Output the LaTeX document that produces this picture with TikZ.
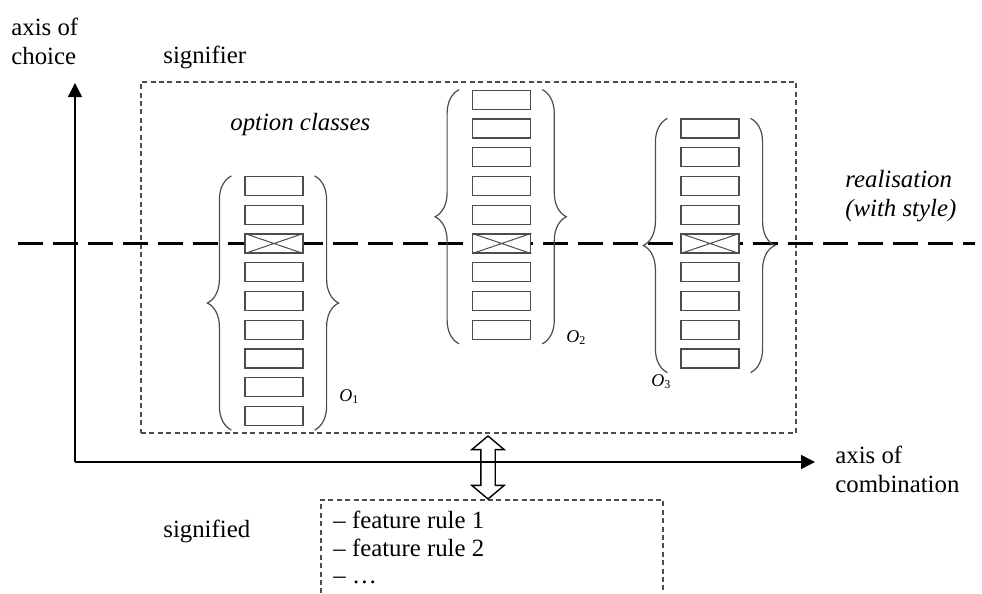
\documentclass[tikz,border=0pt]{standalone}
\usepackage{fontspec}
\setmainfont{Liberation Serif}
\usetikzlibrary{positioning, arrows.meta, shapes.arrows, decorations.pathreplacing}

\tikzset{
  lbl/.style={font=\fontsize{12.4}{14.5}\selectfont, inner sep=0pt, align=left},
  olbl/.style={font=\fontsize{9}{10}\selectfont, inner sep=0pt},
  optbox/.style={draw=black!70, fill=white, line width=0.6pt, minimum width=29pt, minimum height=9.5pt, inner sep=0pt},
  crossline/.style={draw=black!70, line width=0.5pt},
  classbrace/.style={draw=black!70, line width=0.6pt, decorate, decoration={brace, amplitude=12pt}},
  dashframe/.style={draw=black!70, line width=0.9pt, dash pattern=on 2.5pt off 1.7pt},
  axisline/.style={draw=black, line width=0.7pt, -{Triangle[length=7pt, width=7pt]}},
  realline/.style={draw=black, line width=1.5pt, dash pattern=on 12.5pt off 5pt},
  linkarrow/.style={double arrow, draw=black, line width=0.7pt, rotate=90, minimum height=31.5pt, text height=6.5pt, text depth=0pt, text width=0pt, double arrow head extend=4.5pt, double arrow tip angle=100, inner sep=0pt}
}

\begin{document}
\begin{tikzpicture}[x=0.5pt, y=-0.5pt]
    \clip (0,0) rectangle (982,594);

    % the signifier and signified frames
    \node (signifierbox) [dashframe, minimum width=327.5pt, minimum height=175.5pt, inner sep=0pt] at (468.5,257.5) {};
    \node (signifiedbox) [dashframe, minimum width=171pt, minimum height=80pt, inner sep=0pt] at (492,580) {};

    % the two axes
    \coordinate (origin) at (75,462);
    \coordinate (choicetip) at (75,83);
    \coordinate (combtip) at (815,462);
    \draw [axisline] (origin) -- (choicetip);
    \draw [axisline] (origin) -- (combtip);

    % the realisation line
    \coordinate (realleft) at (18,243.5);
    \coordinate (realright) at (975,243.5);
    \draw [realline] (realleft) -- (realright);

    % option class 1
    \foreach \i in {1,...,9}
        \node [optbox] (a\i) at (274, {186+(\i-1)*28.75}) {};
    \draw [crossline] (a3.north west) -- (a3.south east) (a3.south west) -- (a3.north east);
    \draw [classbrace] ([shift={(-6.5pt,-2pt)}]a9.south west) -- ([xshift=-6.5pt]a1.north west);
    \draw [classbrace] ([xshift=5.5pt]a1.north east) -- ([shift={(5.5pt,-2pt)}]a9.south east);

    % option class 2
    \foreach \i in {1,...,9}
        \node [optbox] (b\i) at (501.7, {99.75+(\i-1)*28.75}) {};
    \draw [crossline] (b6.north west) -- (b6.south east) (b6.south west) -- (b6.north east);
    \draw [classbrace] ([shift={(-6.5pt,-2pt)}]b9.south west) -- ([xshift=-6.5pt]b1.north west);
    \draw [classbrace] ([xshift=5.5pt]b1.north east) -- ([shift={(5.5pt,-2pt)}]b9.south east);

    % option class 3
    \foreach \i in {1,...,9}
        \node [optbox] (c\i) at (710, {128.5+(\i-1)*28.75}) {};
    \draw [crossline] (c5.north west) -- (c5.south east) (c5.south west) -- (c5.north east);
    \draw [classbrace] ([shift={(-6.5pt,-2pt)}]c9.south west) -- ([xshift=-6.5pt]c1.north west);
    \draw [classbrace] ([xshift=5.5pt]c1.north east) -- ([shift={(5.5pt,-2pt)}]c9.south east);

    % the class names
    \node [olbl, anchor=west] (o1) at (339,397) {\textit{O}\textsubscript{1}};
    \node [olbl, anchor=west] (o2) at (566,338) {\textit{O}\textsubscript{2}};
    \node [olbl, anchor=west] (o3) at (651,382) {\textit{O}\textsubscript{3}};

    % link between signifier and signified
    \node [linkarrow] (link) at (488,467.5) {};

    % the labels
    \node [lbl, anchor=north west] (choice) at (11,18) {axis of\\choice};
    \node [lbl, anchor=base west] (signifier) at (163,63) {signifier};
    \node [lbl, anchor=base west] (classes) at (230,130) {\itshape option classes};
    \node [lbl, anchor=north west] (realisation) at (845,170) {\itshape realisation\\\itshape (with style)};
    \node [lbl, anchor=north west] (combination) at (835,446) {axis of\\combination};
    \node [lbl, anchor=base west] (signified) at (163,537) {signified};
    \node [lbl, anchor=north west, font=\fontsize{12.4}{13.75}\selectfont] (rules) at (333,511) {-- feature rule 1\\-- feature rule 2\\-- \dots};

\end{tikzpicture}
\end{document}
